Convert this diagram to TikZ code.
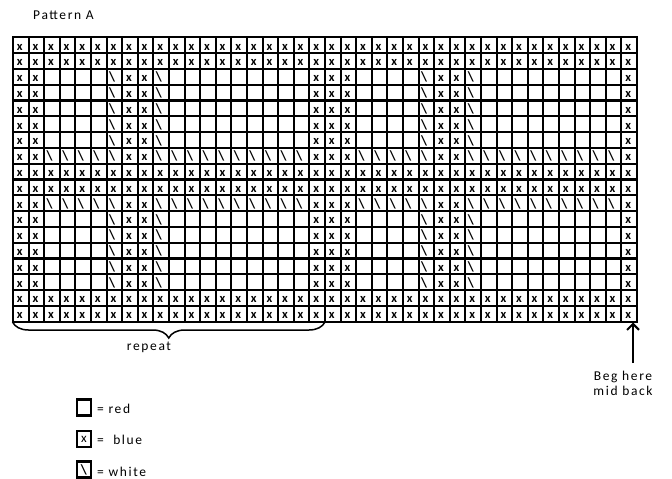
\documentclass[tikz,border=0pt]{standalone}
\usepackage{fontspec}
\setmainfont{Carlito}
\newfontfamily\lblfont{Carlito}[LetterSpace=12]
\newfontfamily\cellfont{Carlito}
\usetikzlibrary{decorations.pathreplacing,arrows.meta}
\begin{document}
\begin{tikzpicture}[x=1pt,y=-1pt,
  gridline/.style={line width=2.1pt,line cap=rect},
  xcell/.style={font=\cellfont\bfseries\fontsize{12.5}{12.5}\selectfont,inner sep=0pt},
  bscell/.style={font=\cellfont\bfseries\fontsize{14}{14}\selectfont,inner sep=0pt},
  lbl/.style={font=\lblfont\fontsize{13.5}{15}\selectfont,inner sep=0pt},
  legbox/.style={draw,line width=2.2pt,minimum width=14pt,minimum height=16pt,inner sep=0pt,font=\cellfont\fontsize{13}{13}\selectfont},
  bracestyle/.style={decorate,decoration={brace,mirror,amplitude=16pt},line width=1.5pt},
  arrowstyle/.style={-{Straight Barb[length=6pt,width=12pt,line width=2pt]},line width=2pt}]
\useasboundingbox (0,0) rectangle (672,479);
\def\gx{13}\def\gy{37.3}\def\cw{15.6}\def\ch{15.8}
% grid
\foreach \i in {0,...,40}
  \draw[gridline] ({\gx+\i*\cw},\gy) -- ({\gx+\i*\cw},{\gy+18*\ch});
\foreach \j in {0,...,18}
  \draw[gridline] (\gx,{\gy+\j*\ch}) -- ({\gx+40*\cw},{\gy+\j*\ch});
% all-x rows
\foreach \r in {1,2,9,10,17,18}
  \foreach \c in {1,...,40}
    \node[xcell] (c-\r-\c) at ({\gx+(\c-0.5)*\cw-1},{\gy+(\r-0.5)*\ch+1.8}) {x};
% pattern rows
\foreach \r in {3,...,7,12,13,14,15,16}
  \foreach \o in {0,20}{
    \foreach \m [evaluate=\m as \c using int(\o+\m)] in {1,2,8,9,20}
      \node[xcell] (c-\r-\c) at ({\gx+(\c-0.5)*\cw-1},{\gy+(\r-0.5)*\ch+1.8}) {x};
    \foreach \m [evaluate=\m as \c using int(\o+\m)] in {7,10}
      \node[bscell] (c-\r-\c) at ({\gx+(\c-0.5)*\cw-2.3},{\gy+(\r-0.5)*\ch+0.5}) {\textbackslash};
  }
% white rows
\foreach \r in {8,11}
  \foreach \o in {0,20}{
    \foreach \m [evaluate=\m as \c using int(\o+\m)] in {1,2,8,9,20}
      \node[xcell] (c-\r-\c) at ({\gx+(\c-0.5)*\cw-1},{\gy+(\r-0.5)*\ch+1.8}) {x};
    \foreach \m [evaluate=\m as \c using int(\o+\m)] in {3,4,5,6,7,10,11,12,13,14,15,16,17,18,19}
      \node[bscell] (c-\r-\c) at ({\gx+(\c-0.5)*\cw-2.3},{\gy+(\r-0.5)*\ch+0.5}) {\textbackslash};
  }
% labels
\node[lbl,anchor=west] (title) at (33,15) {Pattern A};
\coordinate (bl) at (12.5,322);
\coordinate (br) at (325,322);
\draw[bracestyle] (bl) -- (br);
\node[lbl] (rep) at (149,347) {repeat};
\coordinate (arrtail) at (633,363);
\coordinate (arrtip) at (633,322.5);
\draw[arrowstyle] (arrtail) -- (arrtip);
\node[lbl,align=center] (beg) at (623,383) {Beg here\\mid back};
% legend
\node[legbox] (l1) at (84,407.5) {};
\node[lbl,anchor=west] (t1) at (97,409) {= red};
\node[legbox] (l2) at (84,439) {x};
\node[lbl,anchor=west] (t2) at (97,440) {=\ \ blue};
\node[legbox,font=\cellfont\bfseries\fontsize{14}{14}\selectfont] (l3) at (84,469.5) {\textbackslash};
\node[lbl,anchor=west] (t3) at (97,471.5) {= white};
\end{tikzpicture}
\end{document}
